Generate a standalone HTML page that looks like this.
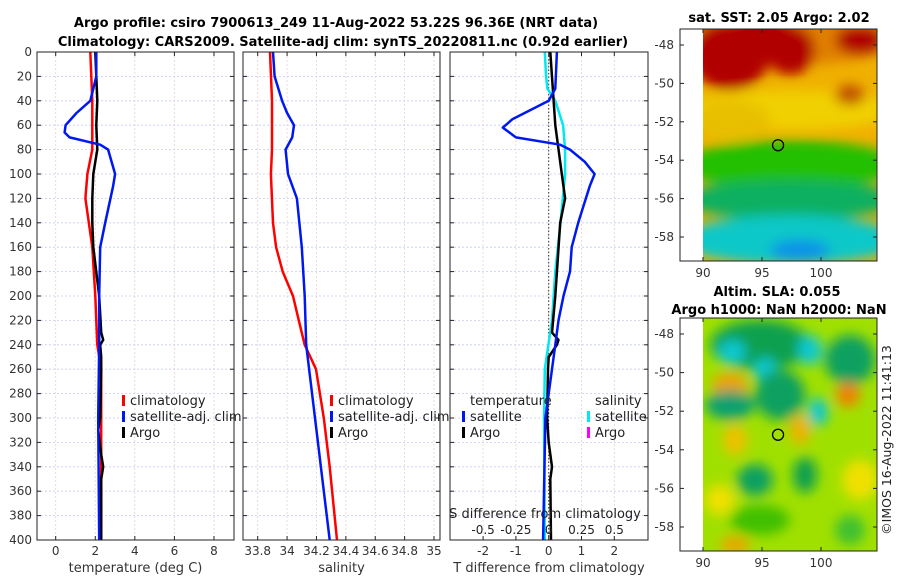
<!DOCTYPE html>
<html><head><meta charset="utf-8"><style>
body{margin:0;background:#fff;}
svg{display:block;font-family:"DejaVu Sans","Liberation Sans",sans-serif;}
</style></head><body>
<svg id="fig" width="900" height="580" viewBox="0 0 900 580" xmlns="http://www.w3.org/2000/svg">
<defs>
<filter id="blur1" x="-20%" y="-20%" width="140%" height="140%"><feGaussianBlur stdDeviation="6"/></filter>
<clipPath id="clipM1"><rect x="703" y="29" width="174" height="232"/></clipPath>
<clipPath id="clipM2"><rect x="703" y="318" width="174" height="233"/></clipPath>
</defs>
<text x="336" y="27" text-anchor="middle" font-size="13" font-weight="bold">Argo profile: csiro 7900613_249 11-Aug-2022 53.22S 96.36E (NRT data)</text>
<text x="343" y="46" text-anchor="middle" font-size="13" font-weight="bold">Climatology: CARS2009. Satellite-adj clim: synTS_20220811.nc (0.92d earlier)</text>
<g id="plots"></g>
<text x="779" y="22" text-anchor="middle" font-size="13" font-weight="bold">sat. SST: 2.05 Argo: 2.02</text>
<text x="777" y="296" text-anchor="middle" font-size="13" font-weight="bold">Altim. SLA: 0.055</text>
<text x="779" y="314" text-anchor="middle" font-size="13" font-weight="bold">Argo h1000: NaN h2000: NaN</text>
<text transform="translate(891,440) rotate(-90)" text-anchor="middle" font-size="12.5" fill="#222">©IMOS 16-Aug-2022 11:41:13</text>
</svg>
<script>
const NS="http://www.w3.org/2000/svg";
// ---- data ----
const depthTicks=[0,20,40,60,80,100,120,140,160,180,200,220,240,260,280,300,320,340,360,380,400];
const tempTicks=[0,2,4,6,8];
const salTicks=[33.8,34,34.2,34.4,34.6,34.8,35];
const tdiffTicks=[-2,-1,0,1,2];
const sdiffTicks=[-0.5,-0.25,0,0.25,0.5];
const sdiffLabels=["-0.5","-0.25","0","0.25","0.5"];
const lonTicks=[90,95,100];
const latTicks=[-48,-50,-52,-54,-56,-58];

const climDepth=[0,40,80,100,120,160,200,240,260,400];
const climTemp=[1.75,1.85,1.85,1.6,1.5,1.85,2.0,2.1,2.3,2.3];
const satDepth=[0,20,40,50,60,66,70,76,80,100,110,140,160,200,240,300,400];
const satTemp=[2.05,2.05,1.75,1.05,0.5,0.45,0.7,2.25,2.65,3.0,2.9,2.5,2.25,2.2,2.2,2.15,2.2];
const argoDepth=[0,20,40,60,80,100,120,140,160,200,230,236,240,250,260,300,310,330,340,350,400];
const argoTemp=[2.0,2.05,2.1,2.05,2.1,1.9,1.85,1.85,1.9,2.2,2.3,2.4,2.25,2.3,2.3,2.25,2.15,2.3,2.4,2.3,2.3];

const climSalDepth=[0,40,80,100,140,160,180,200,220,240,260,300,340,400];
const climSal=[33.884,33.897,33.897,33.89,33.904,33.925,33.97,34.04,34.08,34.12,34.197,34.25,34.29,34.34];
const satSalDepth=[0,20,40,50,60,70,80,100,120,160,200,240,300,400];
const satSal=[33.904,33.915,33.966,34.0,34.047,34.035,33.99,34.006,34.067,34.10,34.12,34.13,34.19,34.29];

const dTDepth=[0,30,40,55,62,70,76,80,90,100,110,140,160,180,200,220,240,280,300,400];
const satTdiff=[0.25,0.2,0,-1.1,-1.4,-1.0,0.35,0.65,1.1,1.4,1.25,0.9,0.7,0.65,0.45,0.3,0.2,0,-0.1,-0.17];
const argoTdDepth=[0,60,100,120,140,200,230,236,240,250,260,300,320,340,350,400];
const argoTdiff=[0.05,0.2,0.4,0.5,0.35,0.2,0.1,0.3,0.25,0,-0.02,-0.05,0.0,0.1,0.05,0.07];
const satSdDepth=[0,20,30,40,60,80,100,140,180,220,260,300,400];
const satSdiff=[-0.03,-0.02,-0.01,0.05,0.11,0.125,0.125,0.09,0.05,0.025,-0.03,-0.035,-0.03];

const argoLon=96.36, argoLat=-53.22;

// ---- helpers ----
const fig=document.getElementById('plots');
function el(tag,attrs,parent){const e=document.createElementNS(NS,tag);for(const k in attrs)e.setAttribute(k,attrs[k]);(parent||fig).appendChild(e);return e;}
const Y0=52,Y1=540;
const yD=d=>Y0+(d/400)*(Y1-Y0);
function lin(d0,d1,r0,r1){return v=>r0+(v-d0)/(d1-d0)*(r1-r0);}

function axesFrame(name,x0,x1,xs,ticks,labels,xlabel,showY){
  const g=el('g',{});
  
  
  el('rect',{x:x0,y:Y0,width:x1-x0,height:Y1-Y0,fill:'#fff'},g);
  depthTicks.forEach(d=>{const l=el('line',{x1:x0,x2:x1,y1:yD(d),y2:yD(d),stroke:'#c4ccf0','stroke-width':0.8,'stroke-dasharray':'2,2'},g);
    });
  ticks.forEach(t=>{const x=xs(t);el('line',{x1:x,x2:x,y1:Y0,y2:Y1,stroke:'#e8d0d0','stroke-width':0.8,'stroke-dasharray':'2,2'},g);
    el('line',{x1:x,x2:x,y1:Y1,y2:Y1-4,stroke:'#222'},g);el('line',{x1:x,x2:x,y1:Y0,y2:Y0+4,stroke:'#222'},g);});
  ticks.forEach((t,i)=>{const tx=el('text',{x:xs(t),y:555,'text-anchor':'middle','font-size':12,fill:'#333'},g);tx.textContent=labels[i];
    });
  depthTicks.forEach(d=>{el('line',{x1:x0,x2:x0+4,y1:yD(d),y2:yD(d),stroke:'#222'},g);el('line',{x1:x1,x2:x1-4,y1:yD(d),y2:yD(d),stroke:'#222'},g);
    if(showY){const tx=el('text',{x:x0-5,y:yD(d)+4,'text-anchor':'end','font-size':12,fill:'#333'},g);tx.textContent=d;
      }});
  const xl=el('text',{x:(x0+x1)/2,y:572,'text-anchor':'middle','font-size':13,fill:'#333'},g);xl.textContent=xlabel;
  
  return g;
}
function border(x0,x1,g){el('rect',{x:x0,y:Y0,width:x1-x0,height:Y1-Y0,fill:'none',stroke:'#222','stroke-width':1},g);}
function line(xs,ds,vs,color,w,name,g){
  const p=ds.map((d,i)=>xs(vs[i]).toFixed(1)+','+yD(d).toFixed(1)).join(' ');
  const pl=el('polyline',{points:p,fill:'none',stroke:color,'stroke-width':w,'stroke-linejoin':'round'},g);
  
}
function legendEntry(x,y,color,label,g,name){
  const lg=el('g',{},g);
  
  el('rect',{x:x,y:y-10,width:3,height:11,fill:color},lg);
  const t=el('text',{x:x+8,y:y,'font-size':13,fill:'#222'},lg);t.textContent=label;
}

// panel 1
const xT=lin(0,8,55.7,214);
const g1=axesFrame('temperature-panel',37,234,xT,tempTicks,tempTicks.map(String),'temperature (deg C)',true);
line(xT,climDepth,climTemp,'#f00',2.5,'climatology-temp-line',g1);
line(xT,argoDepth,argoTemp,'#000',2.5,'argo-temp-line',g1);
line(xT,satDepth,satTemp,'#0018f0',2.5,'satellite-temp-line',g1);
border(37,234,g1);
legendEntry(122,405,'#f00','climatology',g1,'legend-climatology');
legendEntry(122,421,'#0018f0','satellite-adj. clim',g1,'legend-satellite');
legendEntry(122,437,'#000','Argo',g1,'legend-argo');

// panel 2
const xS=lin(33.8,35,257.7,434);
const g2=axesFrame('salinity-panel',243,440,xS,salTicks,salTicks.map(String),'salinity',false);
line(xS,climSalDepth,climSal,'#f00',2.5,'climatology-sal-line',g2);
line(xS,satSalDepth,satSal,'#0018f0',2.5,'satellite-sal-line',g2);
border(243,440,g2);
legendEntry(330,405,'#f00','climatology',g2,'legend-climatology-sal');
legendEntry(330,421,'#0018f0','satellite-adj. clim',g2,'legend-satellite-sal');
legendEntry(330,437,'#000','Argo',g2,'legend-argo-sal');

// panel 3
const xTd=lin(0,2,548.7,614.3);
const xSd=v=>xTd(v*4);
const g3=axesFrame('difference-panel',450,648,xTd,tdiffTicks,tdiffTicks.map(String),'T difference from climatology',false);
el('line',{x1:xTd(0),x2:xTd(0),y1:Y0,y2:Y1,stroke:'#333','stroke-width':1,'stroke-dasharray':'1.5,2'},g3);
line(xSd,satSdDepth,satSdiff,'#00e8f0',2.5,'satellite-sal-diff-line',g3);
line(xTd,argoTdDepth,argoTdiff,'#000',2.5,'argo-temp-diff-line',g3);
line(xTd,dTDepth,satTdiff,'#0018f0',2.5,'satellite-temp-diff-line',g3);
border(450,648,g3);
const tt=el('text',{x:470,y:405,'font-size':13,fill:'#222'},g3);tt.textContent='temperature';

legendEntry(462,421,'#0018f0','satellite',g3,'legend-temp-satellite');
legendEntry(462,437,'#000','Argo',g3,'legend-temp-argo');
const st=el('text',{x:595,y:405,'font-size':13,fill:'#222'},g3);st.textContent='salinity';

legendEntry(587,421,'#00e8f0','satellite',g3,'legend-sal-satellite');
legendEntry(587,437,'#ff00ff','Argo',g3,'legend-sal-argo');
const sl=el('text',{x:545,y:518,'text-anchor':'middle','font-size':13,fill:'#222'},g3);sl.textContent='S difference from climatology';

sdiffTicks.forEach((t,i)=>{const tx=el('text',{x:xSd(t),y:534,'text-anchor':'middle','font-size':12,fill:'#222'},g3);tx.textContent=sdiffLabels[i];
  });

// maps
const mx=lin(90,100,703,821);
function mapFrame(name,top,bot,latY,clip,blobs,base){
  const g=el('g',{});
  
  el('rect',{x:680,y:top,width:197,height:bot-top,fill:'#fff'},g);
  const inner=el('g',{'clip-path':'url(#'+clip+')'},g);
  el('rect',{x:703,y:top,width:174,height:bot-top,fill:base},inner);
  const bl=el('g',{filter:'url(#blur1)'},inner);
  blobs.forEach(b=>el('ellipse',{cx:b[0],cy:b[1],rx:b[2],ry:b[3],fill:b[4]},bl));
  el('rect',{x:680,y:top,width:197,height:bot-top,fill:'none',stroke:'#222'},g);
  lonTicks.forEach(t=>{el('line',{x1:mx(t),x2:mx(t),y1:bot,y2:bot-4,stroke:'#222'},g);el('line',{x1:mx(t),x2:mx(t),y1:top,y2:top+4,stroke:'#222'},g);
    const tx=el('text',{x:mx(t),y:bot+16,'text-anchor':'middle','font-size':12,fill:'#333'},g);tx.textContent=t;
    });
  latTicks.forEach(t=>{const y=latY(t);el('line',{x1:877,x2:873,y1:y,y2:y,stroke:'#222'},g);el('line',{x1:680,x2:684,y1:y,y2:y,stroke:'#222'},g);
    const tx=el('text',{x:674,y:y+4,'text-anchor':'end','font-size':12,fill:'#333'},g);tx.textContent=t;
    });
  const c=el('circle',{cx:mx(argoLon),cy:latY(argoLat),r:5.5,fill:'none',stroke:'#000','stroke-width':1.3},g);
  
}
const lat1=lin(-48,-58,45,237);
mapFrame('sst-map',29,261,lat1,'clipM1',[
 [790,30,120,35,'#e08000'],[730,55,40,35,'#b00000'],[790,50,25,25,'#b00000'],[860,40,25,15,'#b00000'],[760,30,35,15,'#b00000'],
 [790,110,110,20,'#f0d000'],[730,120,40,20,'#e8c000'],[850,95,15,10,'#c05000'],
 [790,165,110,25,'#20c000'],[790,200,110,20,'#10b060'],[790,240,110,25,'#10c8c8'],[800,250,30,10,'#1090e8']
],'#f0b000');
const lat2=lin(-48,-58,334,527);
mapFrame('sla-map',318,551,lat2,'clipM2',[
 [760,345,50,25,'#10a050'],[732,352,14,12,'#10c8d0'],[810,350,12,15,'#10c8d0'],[765,370,12,12,'#10c8d0'],[850,360,25,25,'#10a060'],
 [730,385,18,12,'#f0a000'],[780,395,25,25,'#10a060'],[818,412,10,14,'#10c8d0'],[848,395,12,12,'#f08000'],[730,405,25,15,'#10a070'],
 [800,430,10,15,'#f0b000'],[735,440,12,15,'#f0c000'],[755,480,18,16,'#10a060'],[805,475,12,18,'#10a050'],[860,480,18,20,'#f0e000'],
 [720,500,15,15,'#f0e000'],[760,520,30,15,'#40c000'],[735,545,15,8,'#f0a000'],[850,530,15,15,'#40c030']
],'#a0e000');
</script>
</body></html>
